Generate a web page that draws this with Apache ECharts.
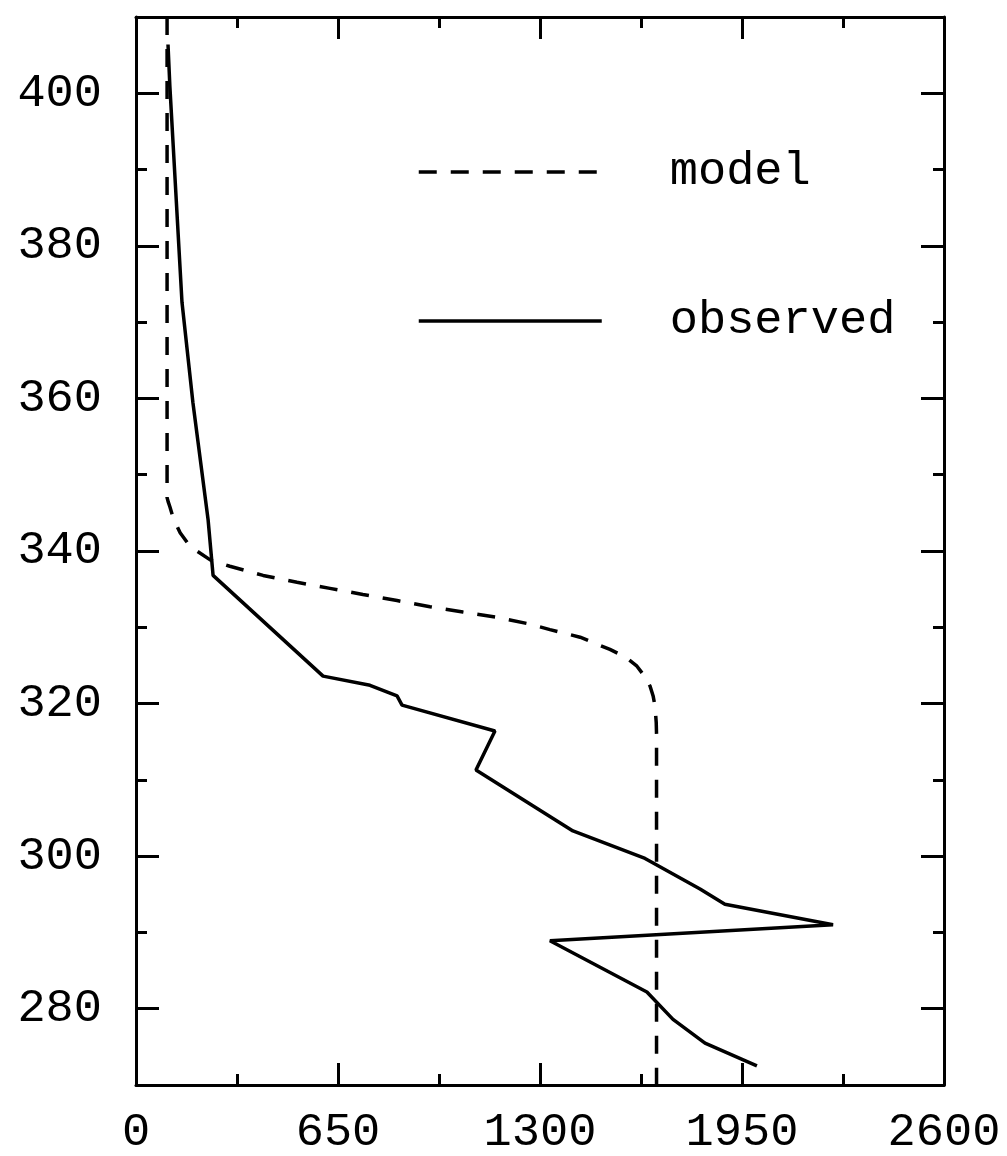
<!DOCTYPE html>
<html>
<head>
<meta charset="utf-8">
<script src="https://cdn.jsdelivr.net/npm/echarts@6/dist/echarts.min.js"></script>
<style>
html,body{margin:0;padding:0;background:#fff;}
#chart{width:1007px;height:1156px;}
</style>
</head>
<body>
<div id="chart"></div>
<script>
const modelData = [
  [100,410],[100,347],[104,346.4],[109,345.8],[120,344.3],[142,342.4],[165,341.1],
  [196,340.0],[240,338.8],[302,338.0],[409,336.8],
  [518,335.9],[624,335.1],[730,334.3],[840,333.5],[946,332.7],[1052,332.0],
  [1162,331.3],[1258,330.5],[1332,329.7],[1429,328.7],[1525,327.1],[1575,326.1],[1612,324.9],
  [1638,323.5],[1654,322.3],[1664,321.0],[1670,319.7],[1674,317.5],[1675,316],[1675,270]
];
const observedData = [
  [103,406.4],[109,400.9],[148,372.6],[183,359.5],[232,344.1],[248,336.8],
  [602,323.6],[753,322.4],[840,321.0],[856,319.8],[1155,316.4],[1094,311.3],
  [1406,303.3],[1638,299.7],[1815,295.7],[1895,293.7],[2243,291.0],[1332,288.9],
  [1644,282.2],[1728,278.6],[1831,275.5],[1998,272.5]
];
const xTicks = [0,650,1300,1950,2600];
const yMajor = [280,300,320,340,360,380,400];
const yMinor = [290,310,330,350,370,390];
const seriesNames = ['model','observed'];

const FONT = '"Liberation Mono", "DejaVu Sans Mono", monospace';
const chart = echarts.init(document.getElementById('chart'));
const axisLine = {show:true, lineStyle:{color:'#000', width:3}};
function yAxis(pos, ticks, len, labels){
  return {
    type:'value', position:pos, min:270, max:410,
    axisLine: labels===null ? {show:false} : axisLine,
    splitLine:{show:false},
    axisTick:{show:true, inside:true, length:len, customValues:ticks, lineStyle:{color:'#000', width:3}},
    axisLabel: labels ? {show:true, customValues:labels, fontFamily:FONT, fontSize:47, color:'#000', margin:34} : {show:false}
  };
}
const option = {
  animation:false,
  backgroundColor:'#fff',
  grid:{left:136, right:63, top:17, bottom:71},
  xAxis:[
    {type:'value', position:'bottom', min:0, max:2600, interval:650,
     axisLine:axisLine, splitLine:{show:false},
     axisTick:{show:true, inside:true, length:22, lineStyle:{color:'#000', width:3}},
     minorTick:{show:true, splitNumber:2, length:11, lineStyle:{color:'#000', width:3}},
     axisLabel:{fontFamily:FONT, fontSize:47, color:'#000', margin:24,
       formatter:function(v){return xTicks.indexOf(v)>=0 ? String(v) : '';}}},
    {type:'value', position:'top', min:0, max:2600, interval:650,
     axisLine:axisLine, splitLine:{show:false},
     axisTick:{show:true, inside:true, length:22, lineStyle:{color:'#000', width:3}},
     minorTick:{show:true, splitNumber:2, length:11, lineStyle:{color:'#000', width:3}},
     axisLabel:{show:false}}
  ],
  yAxis:[
    yAxis('left', yMajor, 23, yMajor),
    yAxis('left', yMinor, 11, null),
    yAxis('right', yMajor, 23, false),
    yAxis('right', yMinor, 11, null)
  ],
  legend:{
    data:seriesNames, orient:'vertical', left:417, top:147, padding:0, itemGap:99,
    itemWidth:183, itemHeight:20,
    itemStyle:{opacity:0},
    lineStyle:{width:3.5},
    textStyle:{fontFamily:FONT, fontSize:47, color:'#000', lineHeight:50, padding:[0,0,0,63]}
  },
  series:[
    {name:seriesNames[0], type:'line', data:modelData, xAxisIndex:0, yAxisIndex:0,
     showSymbol:false, symbol:'none',
     lineStyle:{color:'#000', width:3.5, type:[18,14]}, itemStyle:{color:'#000'}},
    {name:seriesNames[1], type:'line', data:observedData, xAxisIndex:0, yAxisIndex:0,
     showSymbol:false, symbol:'none',
     lineStyle:{color:'#000', width:3.5, type:'solid'}, itemStyle:{color:'#000'}}
  ]
};
chart.setOption(option);
</script>
</body>
</html>
